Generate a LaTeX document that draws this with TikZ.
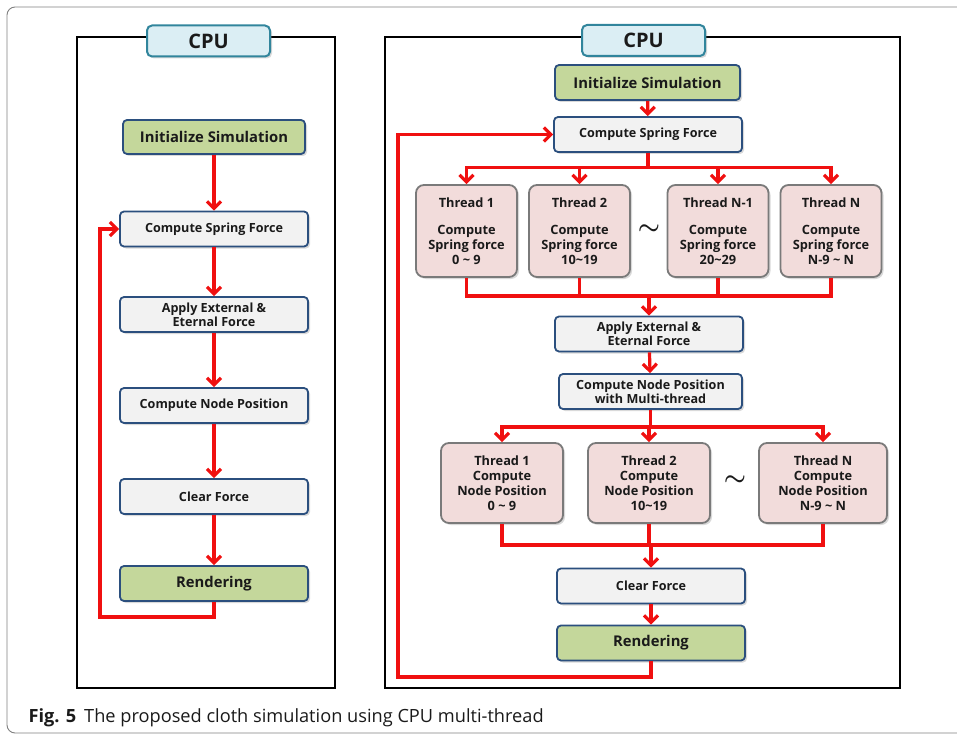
\documentclass[tikz,border=0pt]{standalone}
\usepackage{fontspec}
\setmainfont{Open Sans}
\usetikzlibrary{arrows.meta,shadows}

\definecolor{boxblue}{HTML}{2B4F7E}
\definecolor{procgray}{HTML}{F2F2F2}
\definecolor{startgreen}{HTML}{C4D79B}
\definecolor{thrpink}{HTML}{F2DCDB}
\definecolor{thrgray}{HTML}{7A7A7A}
\definecolor{cpufill}{HTML}{DBEEF4}
\definecolor{cpuline}{HTML}{31859C}
\definecolor{flowred}{HTML}{F01010}
\definecolor{txt}{HTML}{1A1A1A}

\tikzset{
  shade/.style={drop shadow={shadow xshift=2pt,shadow yshift=-2pt,opacity=0.3}},
  proc/.style={draw=boxblue, line width=1.8pt, fill=procgray, rounded corners=4pt,
    minimum width=188pt, minimum height=35pt, inner sep=0pt, align=center,
    text=txt, font=\fontsize{12.6}{14}\selectfont\bfseries, shade},
  startbox/.style={proc, fill=startgreen, font=\fontsize{14.8}{16}\selectfont\bfseries},
  thr/.style={draw=thrgray, line width=1.8pt, fill=thrpink, rounded corners=8pt,
    inner sep=0pt, align=center, text=txt,
    font=\fontsize{12.8}{14.8}\selectfont\bfseries, shade},
  cpubox/.style={draw=cpuline, line width=2pt, fill=cpufill, rounded corners=5pt,
    minimum width=123pt, minimum height=31pt, inner sep=0pt, text=txt,
    font=\fontsize{20}{20}\selectfont\bfseries, shade},
  panel/.style={draw=black, line width=2.4pt},
  flowline/.style={draw=flowred, line width=3.2pt},
  flow/.style={flowline, -{Straight Barb[length=7pt,width=14pt,line width=3.2pt]}},
  gap/.style={font=\fontsize{24.88}{24.88}\selectfont\boldmath, text=txt}
}

\begin{document}
\begin{tikzpicture}[x=1pt,y=-1pt]
    \useasboundingbox (0,0) rectangle (957,735);
    % outer figure frame
    \draw[gray, line width=0.9pt, rounded corners=8pt] (957,7) -- (7,7) -- (7,733) -- (957,733);

    % single thread
    \draw[panel] (77,37) rectangle (335,688);
    \node[cpubox] (cpuL) at (208.5,41) {CPU};
    \node[startbox, minimum width=182pt, minimum height=34pt] (initL) at (214,137) {Initialize Simulation};
    \node[proc] (springL) at (214,229) {Compute Spring Force};
    \node[proc] (applyL) at (214,314.5) {Apply External \&\\Eternal Force};
    \node[proc] (posL) at (214,405.5) {Compute Node Position};
    \node[proc] (clearL) at (214,496.5) {Clear Force};
    \node[startbox, minimum width=188pt] (renderL) at (214,583.5) {Rendering};
    \draw[flow] (initL) -- (springL);
    \draw[flow] (springL) -- (applyL);
    \draw[flow] (applyL) -- (posL);
    \draw[flow] (posL) -- (clearL);
    \draw[flow] (clearL) -- (renderL);
    \coordinate (loopL) at (100,617);
    \draw[flow] (renderL.south) |- (loopL) |- (springL.west);

    % multi thread
    \draw[panel] (385,37) rectangle (900,688);
    \node[cpubox] (cpuR) at (643.5,40.5) {CPU};
    \node[startbox, minimum width=185pt] (initR) at (647.5,82.5) {Initialize Simulation};
    \node[proc] (springR) at (648,134.5) {Compute Spring Force};
    \node[thr, minimum width=101pt, minimum height=92pt] (sa1) at (466.5,231) {Thread 1\\[12pt]Compute\\Spring force\\0 \textasciitilde{} 9};
    \node[thr, minimum width=101pt, minimum height=92pt] (sa2) at (579.5,231) {Thread 2\\[12pt]Compute\\Spring force\\10\textasciitilde19};
    \node[thr, minimum width=101pt, minimum height=92pt] (sa3) at (718,231) {Thread N-1\\[12pt]Compute\\Spring force\\20\textasciitilde29};
    \node[thr, minimum width=101pt, minimum height=92pt] (sa4) at (831,231) {Thread N\\[12pt]Compute\\Spring force\\N-9 \textasciitilde{} N};
    \node[gap] (gapA) at (649,230) {$\sim$};
    \node[proc] (applyR) at (649,334) {Apply External \&\\Eternal Force};
    \node[proc, minimum width=183pt] (posR) at (650.5,391.5) {Compute Node Position\\with Multi-thread};
    \node[thr, minimum width=122pt, minimum height=80pt] (nb1) at (502,483) {Thread 1\\Compute\\Node Position\\0 \textasciitilde{} 9};
    \node[thr, minimum width=122pt, minimum height=80pt] (nb2) at (649,483) {Thread 2\\Compute\\Node Position\\10\textasciitilde19};
    \node[thr, minimum width=128pt, minimum height=80pt] (nb3) at (823,483) {Thread N\\Compute\\Node Position\\N-9 \textasciitilde{} N};
    \node[gap] (gapB) at (735,481) {$\sim$};
    \node[proc] (clearR) at (651,586) {Clear Force};
    \node[startbox, minimum width=188pt] (renderR) at (651,643) {Rendering};

    \foreach \t in {sa1,sa2,sa3,sa4}
        \draw[flow] (springR.south) -- ++(0,15) -| (\t.north);
    \coordinate (mergeA) at (649,296);
    \foreach \t in {sa1,sa2,sa3,sa4}
        \draw[flowline] (\t.south) |- (mergeA);
    \draw[flow] (mergeA) -- (applyR.north);
    \draw[flow] (initR) -- (springR);
    \draw[flow] (applyR) -- (posR);
    \foreach \t in {nb1,nb2,nb3}
        \draw[flow] (posR.south) -- ++(0,17) -| (\t.north);
    \coordinate (mergeB) at (651,545);
    \foreach \t in {nb1,nb2,nb3}
        \draw[flowline] (\t.south) |- (mergeB);
    \draw[flow] (mergeB) -- (clearR.north);
    \draw[flow] (clearR) -- (renderR);
    \coordinate (loopR) at (398,677);
    \draw[flow] (renderR.south) |- (loopR) |- (springR.west);

    % caption
    \node[anchor=base west, text=txt, font=\fontsize{18.2}{18.2}\selectfont] (cap) at (25,722)
        {\textbf{Fig. 5}\hspace{8pt}The proposed cloth simulation using CPU multi-thread};
\end{tikzpicture}
\end{document}
